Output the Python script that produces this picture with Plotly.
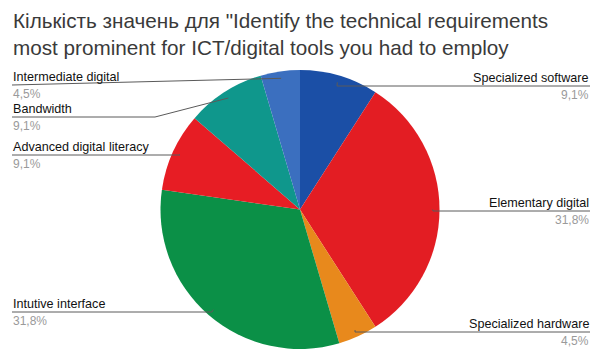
import math
import plotly.graph_objects as go

# Survey answers (number of responses per category), clockwise from 12 o'clock
labels = [
    "Specialized software",
    "Elementary digital",
    "Specialized hardware",
    "Intutive interface",
    "Advanced digital literacy",
    "Bandwidth",
    "Intermediate digital",
]
counts = [2, 7, 1, 7, 2, 2, 1]

colors = ["#1b4fa6", "#e31d23", "#e8891c", "#0b9047", "#e71d24", "#0f978c", "#3b6fbf"]

title_text = ('Кількість значень для "Identify the technical requirements<br>'
              'most prominent for ICT/digital tools you had to employ')

W, H = 604, 349

# Pie geometry in pixels
cx, cy, R = 300, 209.5, 139.5

# Label placement: side, y of the leader/underline, x where the sloped part meets it
placement = {
    "Specialized software": ("right", 86, 337),
    "Elementary digital": ("right", 211, 433),
    "Specialized hardware": ("right", 332, 355),
    "Intutive interface": ("left", 312, 212),
    "Advanced digital literacy": ("left", 155, 180),
    "Bandwidth": ("left", 117, 155),
    "Intermediate digital": ("left", 85, 12),
}
RIGHT_X, LEFT_X = 590, 12
FONT = "Liberation Sans, Arial, sans-serif"


def px(x):
    return x / W


def py(y):
    return 1 - y / H


fig = go.Figure(go.Pie(
    labels=labels,
    values=counts,
    sort=False,
    direction="clockwise",
    rotation=0,
    textinfo="none",
    hoverinfo="label+percent",
    marker=dict(colors=colors, line=dict(width=0)),
    domain=dict(x=[px(cx - R), px(cx + R)], y=[0, py(cy - R)]),
    showlegend=False,
))

total = sum(counts)
shapes, annotations = [], []
cum = 0
for name, v in zip(labels, counts):
    mid = (cum + v / 2) / total * 2 * math.pi
    cum += v
    # anchor point of the leader inside the slice
    ax = cx + 0.95 * R * math.sin(mid)
    ay = cy - 0.95 * R * math.cos(mid)
    side, ly, ex = placement[name]
    end_x = RIGHT_X if side == "right" else LEFT_X
    path = f"M {px(ax)} {py(ay)} L {px(ex)} {py(ly)} L {px(end_x)} {py(ly)}"
    shapes.append(dict(type="path", path=path, xref="paper", yref="paper",
                       line=dict(color="#5a5a5a", width=1)))
    pct = f"{v / total * 100:.1f}".replace(".", ",") + "%"
    anchor = "right" if side == "right" else "left"
    annotations.append(dict(
        x=px(end_x), y=py(ly), xref="paper", yref="paper",
        xanchor=anchor, yanchor="bottom", showarrow=False, borderpad=0,
        text=name, font=dict(family=FONT, size=12.6, color="#111111"),
    ))
    annotations.append(dict(
        x=px(end_x), y=py(ly + 1), xref="paper", yref="paper",
        xanchor=anchor, yanchor="top", showarrow=False, borderpad=0,
        text=pct, font=dict(family=FONT, size=12, color="#9a9a9a"),
    ))

annotations.append(dict(
    x=px(11), y=py(7), xref="paper", yref="paper",
    xanchor="left", yanchor="top", showarrow=False, align="left",
    text=title_text,
    font=dict(family=FONT, size=20.7, color="#3a3a3a"),
))

fig.update_layout(
    width=W, height=H,
    margin=dict(l=0, r=0, t=0, b=0),
    paper_bgcolor="white",
    plot_bgcolor="white",
    shapes=shapes,
    annotations=annotations,
)

fig.write_html("out.html")
